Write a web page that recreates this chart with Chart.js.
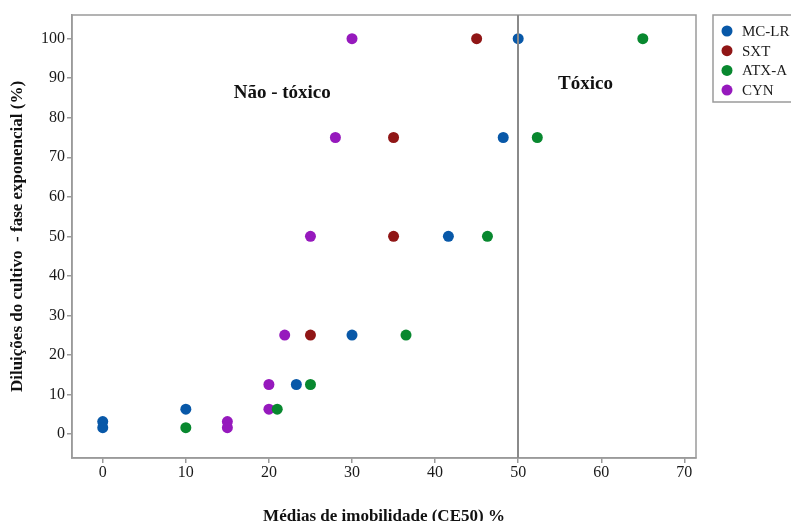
<!DOCTYPE html>
<html lang="pt">
<head>
    <meta charset="UTF-8">
    <title>Médias de imobilidade (CE50)</title>
    <script src="https://cdn.jsdelivr.net/npm/chart.js"></script>
    <style>
        body { margin: 0; background: #fff; }
        canvas { display: block; }
    </style>
</head>
<body>
    <canvas id="ecChart" width="791" height="521"></canvas>

    <script>
        // Dilution levels of the culture (%)
        const dilutions = [100, 75, 50, 25, 12.5, 6.25, 3.125, 1.56];

        // CE50 means per toxin, paired with the dilution at the same index
        const mcLrX = [50, 48.2, 41.6, 30, 23.3, 10, 0, 0];
        const mcLrY = [100, 75, 50, 25, 12.5, 6.25, 3.125, 1.56];

        const sxtX = [45, 35, 35, 25];
        const sxtY = [100, 75, 50, 25];

        const atxX = [65, 52.3, 46.3, 36.5, 25, 21, 10];
        const atxY = [100, 75, 50, 25, 12.5, 6.25, 1.56];

        const cynX = [30, 28, 25, 21.9, 20, 20, 15, 15];
        const cynY = [100, 75, 50, 25, 12.5, 6.25, 3.125, 1.56];

        const xTicks = [0, 10, 20, 30, 40, 50, 60, 70];
        const yTicks = [0, 10, 20, 30, 40, 50, 60, 70, 80, 90, 100];
        const threshold = 50;

        const serif = '"Liberation Serif", "Times New Roman", serif';

        function toPoints(xs, ys) {
            return xs.map((x, i) => ({ x: x, y: ys[i] }));
        }

        // Frame around the plot, the 50% cut-off line and the two region labels
        const framePlugin = {
            id: 'frame',
            afterDraw(chart) {
                const { ctx, chartArea: a, scales } = chart;
                ctx.save();
                ctx.strokeStyle = '#9a9a9a';
                ctx.lineWidth = 1.5;
                ctx.strokeRect(a.left, a.top, a.right - a.left, a.bottom - a.top);

                const xc = Math.round(scales.x.getPixelForValue(threshold));
                ctx.strokeStyle = '#8a8a8a';
                ctx.lineWidth = 2;
                ctx.beginPath();
                ctx.moveTo(xc, a.top);
                ctx.lineTo(xc, a.bottom);
                ctx.stroke();

                ctx.fillStyle = '#111';
                ctx.font = 'bold 19px ' + serif;
                ctx.textAlign = 'center';
                ctx.textBaseline = 'middle';
                ctx.fillText('Não - tóxico', scales.x.getPixelForValue(21.6), scales.y.getPixelForValue(86.3));
                ctx.fillText('Tóxico', scales.x.getPixelForValue(58.1), scales.y.getPixelForValue(88.4));
                ctx.restore();
            }
        };

        // Boxed legend to the right of the plot
        const boxLegendPlugin = {
            id: 'boxLegend',
            afterDraw(chart) {
                const ctx = chart.ctx;
                const left = 713, top = 15, width = 80, height = 87;
                ctx.save();
                ctx.strokeStyle = '#9a9a9a';
                ctx.lineWidth = 1.5;
                ctx.strokeRect(left, top, width, height);
                ctx.font = '15px ' + serif;
                ctx.textAlign = 'left';
                ctx.textBaseline = 'middle';
                chart.data.datasets.forEach((ds, i) => {
                    const y = 31 + i * 19.7;
                    ctx.fillStyle = ds.backgroundColor;
                    ctx.beginPath();
                    ctx.arc(727, y, 5.5, 0, Math.PI * 2);
                    ctx.fill();
                    ctx.fillStyle = '#1a1a1a';
                    ctx.fillText(ds.label, 742, y + 1);
                });
                ctx.restore();
            }
        };

        const ctx = document.getElementById('ecChart').getContext('2d');

        const ecChart = new Chart(ctx, {
            type: 'scatter',
            data: {
                datasets: [
                    { label: 'MC-LR', data: toPoints(mcLrX, mcLrY), backgroundColor: '#0858a8' },
                    { label: 'SXT', data: toPoints(sxtX, sxtY), backgroundColor: '#901616' },
                    { label: 'ATX-A', data: toPoints(atxX, atxY), backgroundColor: '#08882f' },
                    { label: 'CYN', data: toPoints(cynX, cynY), backgroundColor: '#9619bd' }
                ]
            },
            options: {
                responsive: false,
                animation: false,
                layout: {
                    padding: { top: 15, right: 95, left: 0, bottom: 0 }
                },
                elements: {
                    point: { radius: 5.5, hoverRadius: 5.5, borderWidth: 0 }
                },
                plugins: {
                    legend: { display: false },
                    tooltip: { enabled: false }
                },
                scales: {
                    x: {
                        type: 'linear',
                        min: -3.7,
                        max: 71.4,
                        afterFit(scale) { scale.height = 63; },
                        afterBuildTicks(scale) {
                            scale.ticks = xTicks.map(v => ({ value: v }));
                        },
                        grid: {
                            drawOnChartArea: false,
                            drawTicks: true,
                            tickLength: 5,
                            color: '#9a9a9a',
                            lineWidth: 1.5
                        },
                        border: { color: '#9a9a9a', width: 1.5 },
                        ticks: {
                            padding: 0,
                            color: '#1a1a1a',
                            font: { family: serif, size: 16 },
                            maxRotation: 0
                        },
                        title: {
                            display: true,
                            text: 'Médias de imobilidade (CE50) %',
                            color: '#111',
                            font: { family: serif, size: 17, weight: 'bold', lineHeight: 1 },
                            padding: { top: 0, bottom: -4 }
                        }
                    },
                    y: {
                        type: 'linear',
                        min: -6.1,
                        max: 106,
                        afterFit(scale) { scale.width = 72; },
                        afterBuildTicks(scale) {
                            scale.ticks = yTicks.map(v => ({ value: v }));
                        },
                        grid: {
                            drawOnChartArea: false,
                            drawTicks: true,
                            tickLength: 5,
                            color: '#9a9a9a',
                            lineWidth: 1.5
                        },
                        border: { color: '#9a9a9a', width: 1.5 },
                        ticks: {
                            padding: 2,
                            color: '#1a1a1a',
                            font: { family: serif, size: 16 }
                        },
                        title: {
                            display: true,
                            text: 'Diluições do cultivo  - fase exponencial (%)',
                            color: '#111',
                            font: { family: serif, size: 17, weight: 'bold', lineHeight: 1.2 },
                            padding: { top: 7, bottom: 0 }
                        }
                    }
                }
            },
            plugins: [framePlugin, boxLegendPlugin]
        });
    </script>
</body>
</html>
